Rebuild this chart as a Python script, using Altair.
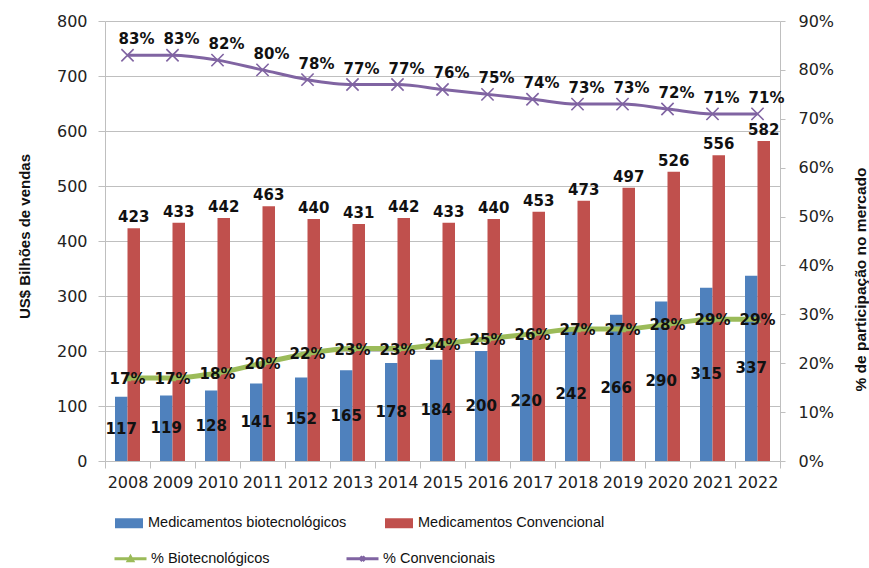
import altair as alt
import pandas as pd

# Sales (US$ billions) and market share (%) by year
years = ["2008", "2009", "2010", "2011", "2012", "2013", "2014", "2015",
         "2016", "2017", "2018", "2019", "2020", "2021", "2022"]
biotech_sales = [117, 119, 128, 141, 152, 165, 178, 184, 200, 220, 242, 266, 290, 315, 337]
conventional_sales = [423, 433, 442, 463, 440, 431, 442, 433, 440, 453, 473, 497, 526, 556, 582]
biotech_share = [17, 17, 18, 20, 22, 23, 23, 24, 25, 26, 27, 27, 28, 29, 29]
conventional_share = [83, 83, 82, 80, 78, 77, 77, 76, 75, 74, 73, 73, 72, 71, 71]

BAR_BIO = "Medicamentos biotecnológicos"
BAR_CONV = "Medicamentos Convencional"
LINE_BIO = "% Biotecnológicos"
LINE_CONV = "% Convencionais"

BLUE, RED, GREEN, PURPLE = "#4F81BD", "#C0504D", "#9BBB59", "#8064A2"
GRID = "#BFBFBF"
TICK_FONT = "DejaVu Sans"
LABEL_FONT = "DejaVu Sans"
TEXT_FONT = "Liberation Sans"

bars_df = pd.DataFrame(
    [{"ano": y, "serie": BAR_BIO, "valor": v} for y, v in zip(years, biotech_sales)]
    + [{"ano": y, "serie": BAR_CONV, "valor": v} for y, v in zip(years, conventional_sales)]
)
lines_df = pd.DataFrame(
    [{"ano": y, "serie": LINE_BIO, "pct": v} for y, v in zip(years, biotech_share)]
    + [{"ano": y, "serie": LINE_CONV, "pct": v} for y, v in zip(years, conventional_share)]
)

x_enc = alt.X(
    "ano:N",
    sort=years,
    scale=alt.Scale(paddingInner=0, paddingOuter=0),
    axis=alt.Axis(
        title=None,
        labelAngle=0,
        labelFont=TICK_FONT,
        labelFontSize=16,
        labelColor="#222222",
        labelPadding=6,
        tickBand="extent",
        tickSize=7,
        tickColor=GRID,
        domainColor=GRID,
        grid=False,
    ),
)
offset_enc = alt.XOffset(
    "serie:N",
    sort=[BAR_BIO, BAR_CONV],
    scale=alt.Scale(paddingInner=0, paddingOuter=0.8),
)
y_left = alt.Y(
    "valor:Q",
    scale=alt.Scale(domain=[0, 800], nice=False),
    axis=alt.Axis(
        title="US$ Bilhões de vendas",
        titleFont=TEXT_FONT,
        titleFontSize=15,
        titleFontWeight="bold",
        titleColor="#111111",
        titleX=-81,
        titleY=215,
        titleAngle=-90,
        titleAlign="center",
        titleBaseline="middle",
        values=list(range(0, 801, 100)),
        labelFont=TICK_FONT,
        labelFontSize=16,
        labelColor="#222222",
        labelPadding=11,
        tickSize=7,
        tickColor=GRID,
        domainColor=GRID,
        grid=True,
        gridColor=GRID,
        gridWidth=1,
    ),
)

bar_color = alt.Color(
    "serie:N",
    scale=alt.Scale(domain=[BAR_BIO, BAR_CONV], range=[BLUE, RED]),
    legend=alt.Legend(
        title=None,
        orient="none",
        legendX=14,
        legendY=492,
        direction="horizontal",
        symbolType="M-1.4,-0.5H1.4V0.5H-1.4Z",
        symbolSize=400,
        symbolStrokeWidth=0,
        labelFont=TEXT_FONT,
        labelFontSize=14.5,
        labelColor="#111111",
        labelOffset=9,
        labelLimit=0,
        columnPadding=38,
        padding=0,
    ),
)

bars = alt.Chart(bars_df).mark_bar().encode(
    x=x_enc, xOffset=offset_enc, y=y_left, color=bar_color
)

conv_bar_labels = (
    alt.Chart(bars_df)
    .transform_filter(alt.datum.serie == BAR_CONV)
    .mark_text(font=LABEL_FONT, fontSize=15, fontWeight="bold", color="#111111",
               baseline="alphabetic", dy=-6)
    .encode(x=x_enc, xOffset=offset_enc, y=alt.Y("valor:Q"), text=alt.Text("valor:Q"))
)
bio_bar_labels = (
    alt.Chart(bars_df)
    .transform_filter(alt.datum.serie == BAR_BIO)
    .transform_calculate(meio="datum.valor / 2")
    .mark_text(font=LABEL_FONT, fontSize=15, fontWeight="bold", color="#111111",
               baseline="middle")
    .encode(x=x_enc, xOffset=offset_enc, y=alt.Y("meio:Q"), text=alt.Text("valor:Q"))
)

bar_layer = alt.layer(bars, conv_bar_labels, bio_bar_labels)

y_right = alt.Y(
    "pct:Q",
    scale=alt.Scale(domain=[0, 90], nice=False),
    axis=alt.Axis(
        orient="right",
        title="% de participação no mercado",
        titleFont=TEXT_FONT,
        titleFontSize=15.5,
        titleFontWeight="bold",
        titleColor="#111111",
        titleX=80,
        titleY=258,
        titleAngle=-90,
        titleAlign="center",
        titleBaseline="middle",
        values=list(range(0, 91, 10)),
        labelExpr="datum.value + '%'",
        labelFont=TICK_FONT,
        labelFontSize=16,
        labelColor="#222222",
        labelPadding=13,
        tickSize=5,
        tickColor=GRID,
        domainColor=GRID,
        grid=False,
    ),
)

bio_df = lines_df[lines_df.serie == LINE_BIO]
conv_df = lines_df[lines_df.serie == LINE_CONV]

bio_line = alt.Chart(bio_df).mark_line(
    color=GREEN, strokeWidth=5, interpolate="monotone"
).encode(x=x_enc, y=y_right)
bio_points = alt.Chart(bio_df).mark_point(
    shape="triangle-up", filled=True, color=GREEN, size=60, opacity=1
).encode(x=x_enc, y=y_right)
conv_line = alt.Chart(conv_df).mark_line(
    color=PURPLE, strokeWidth=3, interpolate="monotone"
).encode(x=x_enc, y=y_right)
conv_points = alt.Chart(conv_df).mark_point(
    shape="M-1,-1L1,1M-1,1L1,-1", filled=False, color=PURPLE, size=150,
    strokeWidth=1.6, opacity=1
).encode(x=x_enc, y=y_right)

bio_pct_labels = alt.Chart(bio_df).transform_calculate(
    rotulo="datum.pct + '%'"
).mark_text(
    font=LABEL_FONT, fontSize=15, fontWeight="bold", color="#111111",
    baseline="middle", dy=1
).encode(x=x_enc, y=y_right, text="rotulo:N")
conv_pct_labels = alt.Chart(conv_df).transform_calculate(
    rotulo="datum.pct + '%'"
).mark_text(
    font=LABEL_FONT, fontSize=15, fontWeight="bold", color="#111111",
    baseline="middle", dx=9, dy=-16
).encode(x=x_enc, y=y_right, text="rotulo:N")

# Legend carrier for the two share series: line segment plus marker symbols
legend_paths = [
    "M-1.6,0H1.6M-0.22,0.2L0,-0.2L0.22,0.2Z",
    "M-1.6,0H1.6M-0.22,-0.22L0.22,0.22M-0.22,0.22L0.22,-0.22",
]
line_legend = alt.Legend(
    title=None,
    orient="none",
    legendX=14,
    legendY=526,
    direction="horizontal",
    symbolSize=400,
    symbolStrokeWidth=3,
    symbolOpacity=1,
    labelFont=TEXT_FONT,
    labelFontSize=14.5,
    labelColor="#111111",
    labelOffset=9,
    labelLimit=0,
    columnPadding=70,
    padding=0,
)
legend_carrier = alt.Chart(lines_df).mark_point(opacity=0, filled=True).encode(
    x=x_enc,
    y=y_right,
    fill=alt.Fill("serie:N", scale=alt.Scale(domain=[LINE_BIO, LINE_CONV], range=[GREEN, PURPLE]),
                  legend=line_legend),
    stroke=alt.Stroke("serie:N", scale=alt.Scale(domain=[LINE_BIO, LINE_CONV], range=[GREEN, PURPLE]),
                      legend=line_legend),
    shape=alt.Shape("serie:N", scale=alt.Scale(domain=[LINE_BIO, LINE_CONV], range=legend_paths),
                    legend=line_legend),
)

line_layer = alt.layer(
    legend_carrier, bio_line, bio_points, conv_line, conv_points, bio_pct_labels, conv_pct_labels
)

chart = (
    alt.layer(bar_layer, line_layer)
    .resolve_scale(y="independent")
    .properties(
        width=675,
        height=440,
        autosize=alt.AutoSizeParams(type="none"),
        padding={"left": 105, "top": 21, "right": 89, "bottom": 107},
        background="white",
    )
    .configure_view(stroke=None)
)

chart.save("out.html", embed_options={"renderer": "svg", "actions": False})
